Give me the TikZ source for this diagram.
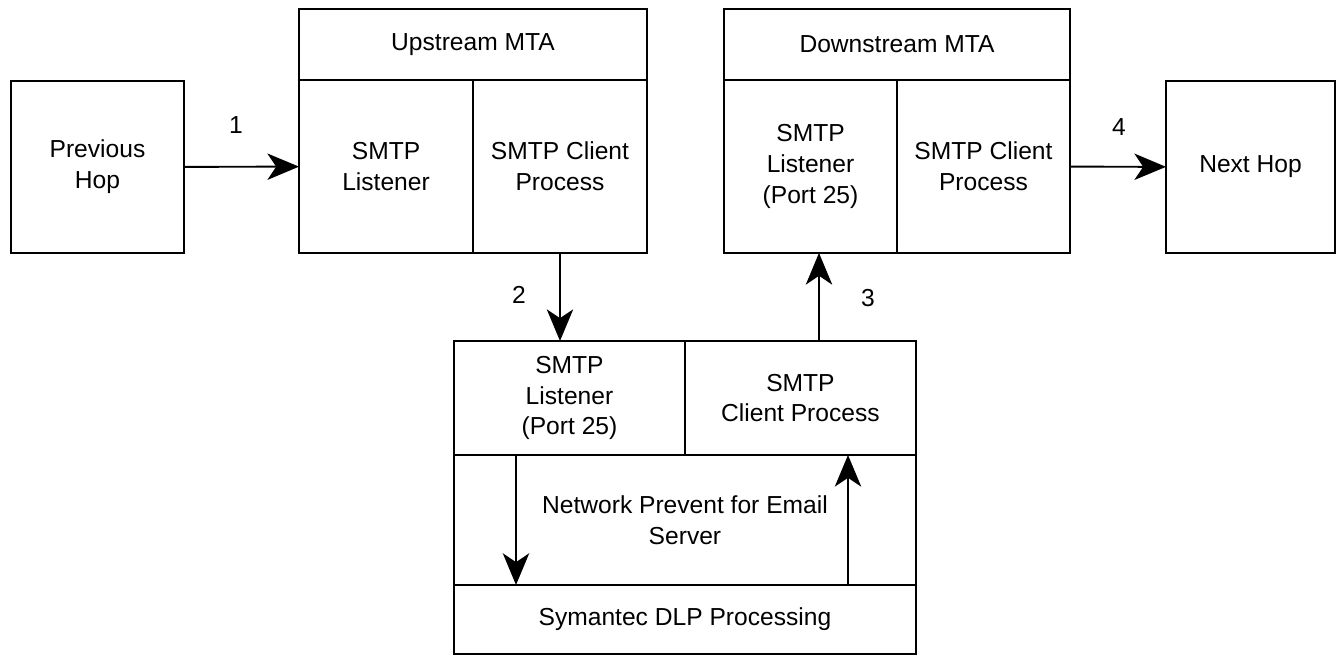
\documentclass[tikz,border=0pt]{standalone}
\usepackage{fontspec}
\setmainfont{Liberation Sans}
\usetikzlibrary{positioning,arrows.meta}

\begin{document}
\begin{tikzpicture}[x=0.02cm, y=-0.02cm, line width=1.1pt,
    every node/.style={font=\fontsize{14}{17.5}\selectfont, align=center},
    box/.style={draw, rectangle, inner sep=0pt, outer sep=0pt},
    flow/.style={-{Stealth[length=18pt,width=15pt,inset=5pt]}}]
    \useasboundingbox (0,0) rectangle (1338,656);
    \node[box, minimum width=3.46cm, minimum height=3.44cm] (prev) at (97.5,167) {Previous\\Hop};
    % upstream MTA
    \node[box, minimum width=6.96cm, minimum height=1.42cm] (upT) at (473,44.5) {Upstream MTA};
    \node[box, minimum width=3.48cm, minimum height=3.46cm, below right=0cm and 0cm of upT.south west] (upL) {SMTP\\Listener};
    \node[box, minimum width=3.48cm, minimum height=3.46cm, right=0cm of upL] (upC) {SMTP Client\\Process};
    % downstream MTA
    \node[box, minimum width=6.92cm, minimum height=1.42cm] (dnT) at (897,44.5) {Downstream MTA};
    \node[box, minimum width=3.46cm, minimum height=3.46cm, below right=0cm and 0cm of dnT.south west] (dnL) {SMTP\\Listener\\(Port 25)};
    \node[box, minimum width=3.46cm, minimum height=3.46cm, right=0cm of dnL] (dnC) {SMTP Client\\Process};
    \node[box, minimum width=3.38cm, minimum height=3.44cm] (next) at (1250.5,167) {Next Hop};
    % network prevent server
    \coordinate (srv) at (454,341);
    \node[box, minimum width=4.62cm, minimum height=2.28cm, below right=0cm and 0cm of srv] (bL) {SMTP\\Listener\\(Port 25)};
    \node[box, minimum width=4.62cm, minimum height=2.28cm, right=0cm of bL] (bC) {SMTP\\Client Process};
    \node[box, minimum width=9.24cm, minimum height=2.6cm, below right=0cm and 0cm of bL.south west] (np) {Network Prevent for Email\\Server};
    \node[box, minimum width=9.24cm, minimum height=1.38cm, below right=0cm and 0cm of np.south west] (dlp) {Symantec DLP Processing};

    \draw[flow] (prev) -- (upL);
    \draw[flow] (dnC) -- (next);
    \draw[flow] (upC.south) -- (upC.south |- bL.north);
    \coordinate (out) at (819,341);
    \draw[flow] (out) -- (out |- dnL.south);
    \coordinate (toDlp) at (516,455);
    \draw[flow] (toDlp) -- (toDlp |- dlp.north);
    \coordinate (fromDlp) at (848,585);
    \draw[flow] (fromDlp) -- (fromDlp |- bC.south);

    \node (s1) at (236,125) {1};
    \node (s2) at (519,295) {2};
    \node (s3) at (868,298) {3};
    \node (s4) at (1119,127) {4};
\end{tikzpicture}
\end{document}
